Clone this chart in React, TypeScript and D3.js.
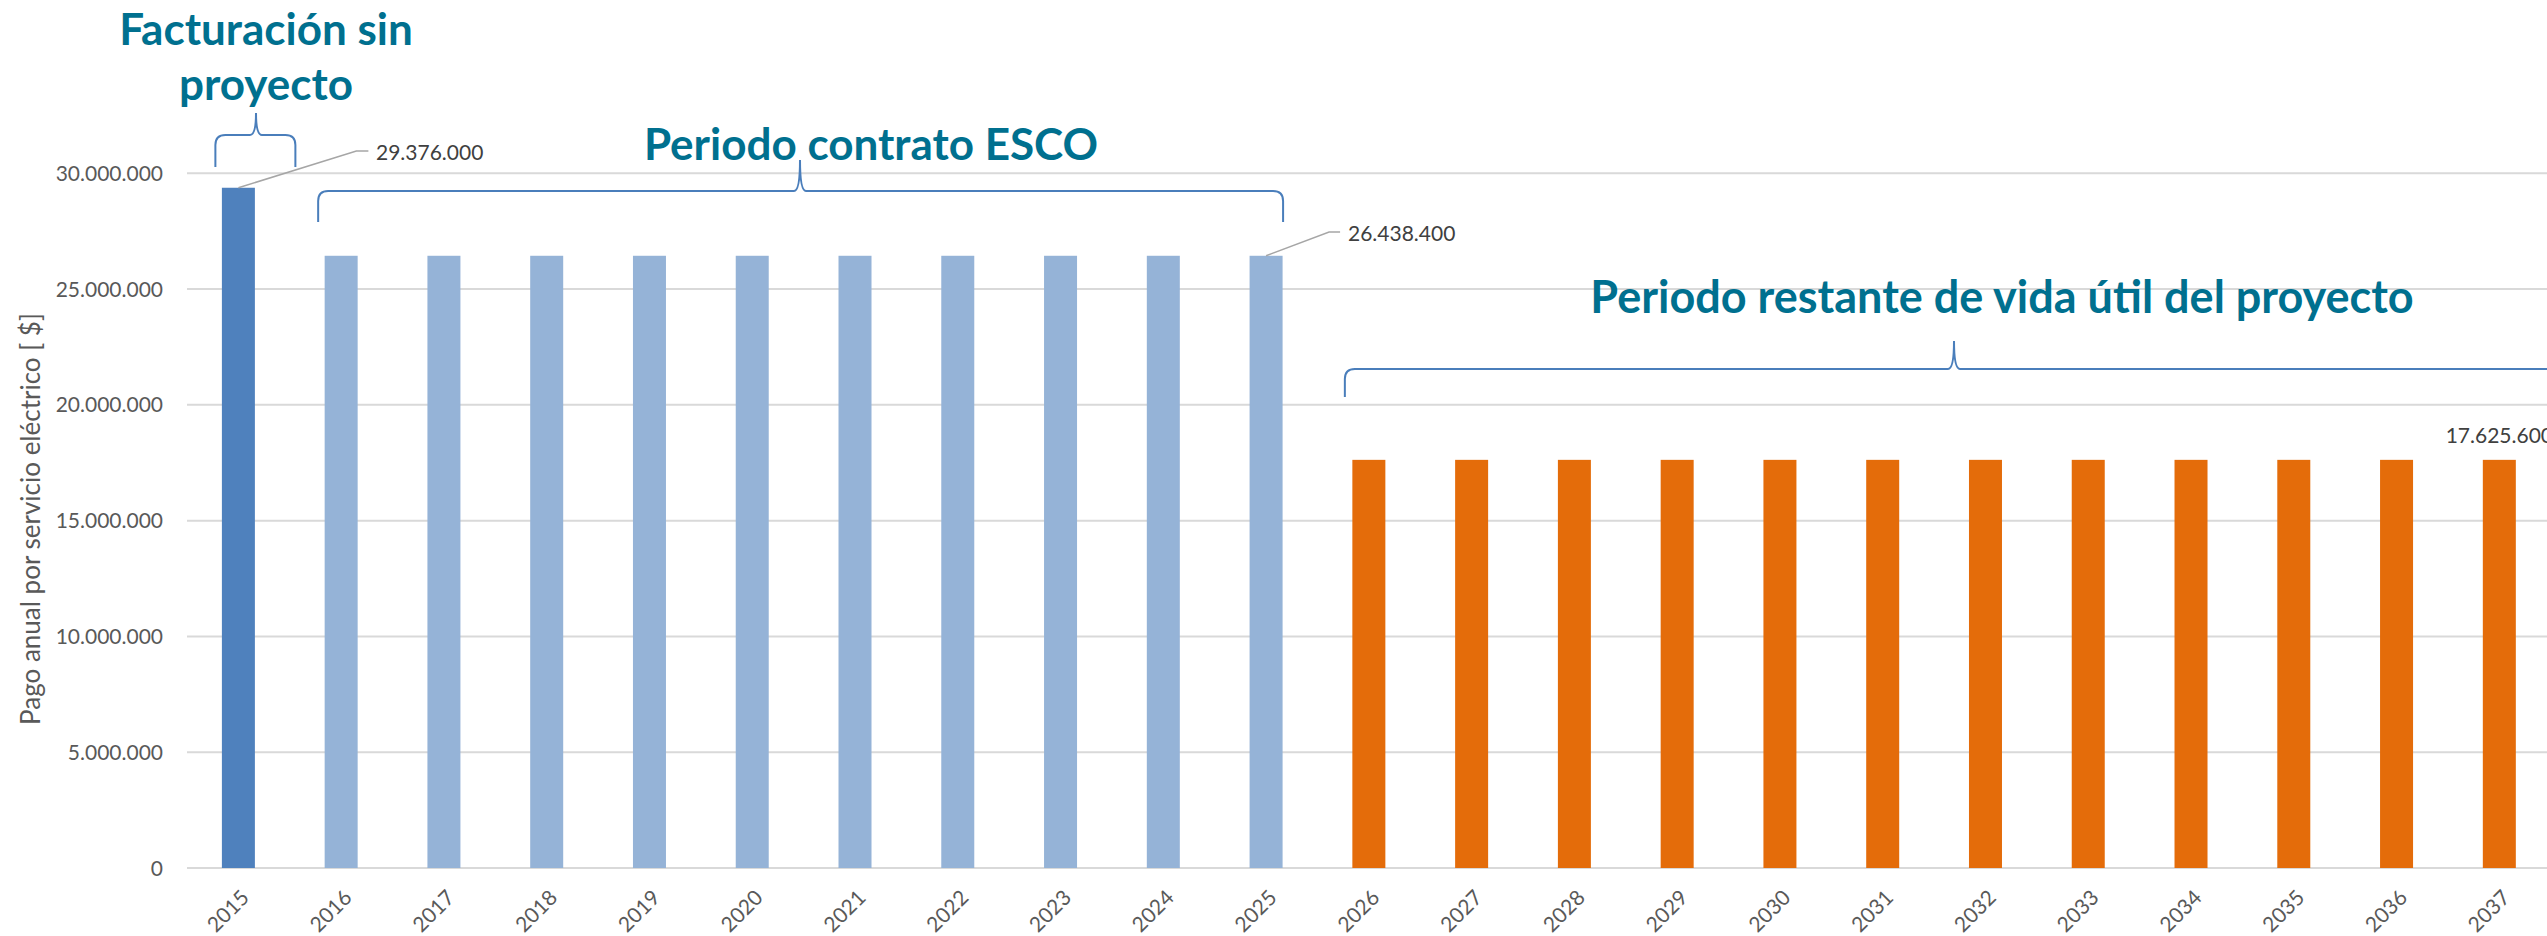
import React from 'react';
import { scaleBand, scaleLinear, formatLocale } from 'd3';

// data
const years = [
  '2015', '2016', '2017', '2018', '2019', '2020', '2021', '2022', '2023', '2024', '2025',
  '2026', '2027', '2028', '2029', '2030', '2031', '2032', '2033', '2034', '2035', '2036', '2037',
];
const sinProyecto = [29376000];
const contratoEsco = [26438400, 26438400, 26438400, 26438400, 26438400, 26438400, 26438400, 26438400, 26438400, 26438400];
const vidaRestante = [17625600, 17625600, 17625600, 17625600, 17625600, 17625600, 17625600, 17625600, 17625600, 17625600, 17625600, 17625600];
const yTicks = [0, 5000000, 10000000, 15000000, 20000000, 25000000, 30000000];

const W = 2547;
const H = 936;
const FONT = 'Lato, "Open Sans", sans-serif';
const TITLE = '#00708F';
const BRACE = '#4A7EBB';

const es = formatLocale({ decimal: ',', thousands: '.', grouping: [3], currency: ['$', ''] });
const fmt = es.format(',d');

const bars = [
  ...sinProyecto.map((v) => ({ v, color: '#4F81BD' })),
  ...contratoEsco.map((v) => ({ v, color: '#95B3D7' })),
  ...vidaRestante.map((v) => ({ v, color: '#E46C0A' })),
].map((d, i) => ({ ...d, year: years[i] }));

// curly brace: ends hang down at yBot, flat at yTop, point up to yCusp at cx
function brace(x1: number, x2: number, cx: number, yBot: number, yTop: number, yCusp: number) {
  const r = 10;
  const c = 6;
  return [
    `M${x1},${yBot}`,
    `L${x1},${yTop + r}`,
    `Q${x1},${yTop} ${x1 + r},${yTop}`,
    `L${cx - c},${yTop}`,
    `Q${cx},${yTop} ${cx},${yCusp}`,
    `Q${cx},${yTop} ${cx + c},${yTop}`,
    `L${x2 - r},${yTop}`,
    `Q${x2},${yTop} ${x2},${yTop + r}`,
    `L${x2},${yBot}`,
  ].join(' ');
}

export default function App() {
  const left = 187;
  const x = scaleBand().domain(years).range([left, left + years.length * 102.77]);
  const y = scaleLinear().domain([0, 30000000]).range([868, 173.3]);
  const bw = 33;
  const cx = (yr: string) => (x(yr) as number) + x.bandwidth() / 2;

  const first = bars[0];
  const lastEsco = bars[contratoEsco.length];
  const lastBar = bars[bars.length - 1];

  return (
    <div style={{ position: 'absolute', left: 0, top: 0 }}>
      <svg width={W} height={H} style={{ display: 'block', background: '#fff' }}>
        {/* gridlines */}
        {yTicks.map((t) => (
          <line key={t} x1={left} x2={W} y1={y(t)} y2={y(t)} stroke="#D9D9D9" strokeWidth={2} />
        ))}
        {yTicks.map((t) => (
          <text key={'l' + t} x={163} y={y(t)} dy="0.36em" textAnchor="end" fontFamily={FONT} fontSize={21} fill="#595959">
            {fmt(t)}
          </text>
        ))}
        <text
          transform="translate(40,519) rotate(-90)"
          textAnchor="middle"
          fontFamily={FONT}
          fontSize={26}
          fill="#595959"
        >
          Pago anual por servicio eléctrico [ $]
        </text>

        {/* bars */}
        {bars.map((d) => (
          <rect key={d.year} x={cx(d.year) - bw / 2} y={y(d.v)} width={bw} height={y(0) - y(d.v)} fill={d.color} />
        ))}

        {/* x labels */}
        {years.map((yr) => (
          <text
            key={'x' + yr}
            transform={`translate(${cx(yr) + 12},899) rotate(-45)`}
            textAnchor="end"
            fontFamily={FONT}
            fontSize={21}
            fill="#595959"
          >
            {yr}
          </text>
        ))}

        {/* data labels with leader lines */}
        <polyline
          points={`${cx(first.year)},${y(first.v)} ${cx(first.year) + 118},151 ${cx(first.year) + 130},151`}
          fill="none"
          stroke="#A6A6A6"
          strokeWidth={1.5}
        />
        <text x={376} y={152} dy="0.36em" fontFamily={FONT} fontSize={21} fill="#404040">
          {fmt(first.v)}
        </text>
        <polyline
          points={`${cx(lastEsco.year)},${y(lastEsco.v)} ${cx(lastEsco.year) + 63},232 ${cx(lastEsco.year) + 74},232`}
          fill="none"
          stroke="#A6A6A6"
          strokeWidth={1.5}
        />
        <text x={1348} y={233} dy="0.36em" fontFamily={FONT} fontSize={21} fill="#404040">
          {fmt(lastEsco.v)}
        </text>
        <text x={cx(lastBar.year)} y={435} dy="0.36em" textAnchor="middle" fontFamily={FONT} fontSize={21} fill="#404040">
          {fmt(lastBar.v)}
        </text>

        {/* braces */}
        <path d={brace(cx('2015') - 23, cx('2015') + 57, 256, 167, 135, 113)} fill="none" stroke={BRACE} strokeWidth={2} />
        <path d={brace(cx('2016') - 23, cx('2025') + 17, 800, 222, 191, 160)} fill="none" stroke={BRACE} strokeWidth={2} />
        <path d={brace(cx('2026') - 24, cx('2037') + 120, 1954, 397, 369, 341)} fill="none" stroke={BRACE} strokeWidth={2} />

        {/* annotation titles */}
        <g fontFamily={FONT} fontWeight={700} fill={TITLE} fontSize={44} textAnchor="middle">
          <text x={266} y={45}>Facturación sin</text>
          <text x={266} y={100}>proyecto</text>
          <text x={871} y={160}>Periodo contrato ESCO</text>
          <text x={2002} y={313} fontSize={45}>Periodo restante de vida útil del proyecto</text>
        </g>
      </svg>
    </div>
  );
}
